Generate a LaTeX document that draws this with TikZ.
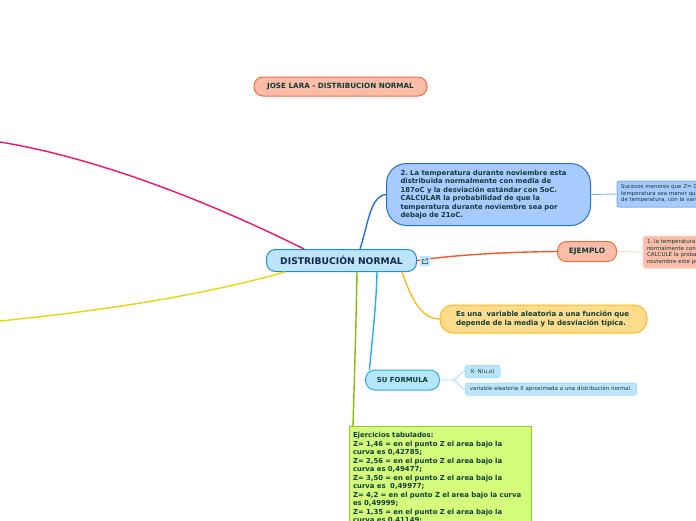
\documentclass[tikz,border=0pt]{standalone}
\usepackage{fontspec}
\setmainfont{DejaVu Sans}
\definecolor{ink}{HTML}{0F3D3A}
\definecolor{navy}{HTML}{14284F}
\definecolor{salmon}{HTML}{FBBDA8}
\definecolor{salmonD}{HTML}{F26B3F}
\definecolor{salmonL}{HTML}{FBD5C6}
\definecolor{skyF}{HTML}{BCE5FB}
\definecolor{skyD}{HTML}{1E8FD5}
\definecolor{blueF}{HTML}{A8CBFF}
\definecolor{blueD}{HTML}{2270D8}
\definecolor{blueL}{HTML}{7AB0F5}
\definecolor{goldF}{HTML}{FFDC8C}
\definecolor{goldD}{HTML}{FDB91E}
\definecolor{cyanF}{HTML}{B5E6FC}
\definecolor{cyanD}{HTML}{27AEEA}
\definecolor{cyanL}{HTML}{A5DDF8}
\definecolor{limeF}{HTML}{D3FD7A}
\definecolor{limeD}{HTML}{9BC62A}
\definecolor{linkPink}{HTML}{F5106E}
\definecolor{linkYellow}{HTML}{EBD507}
\definecolor{linkGreen}{HTML}{84BC08}
\definecolor{linkRed}{HTML}{F8562A}
\frenchspacing
\tikzset{
  box/.style={draw,line width=1pt,align=left,inner sep=0pt,text=ink,font=\fontsize{6.9}{8.5}\selectfont\bfseries},
  small/.style={draw,line width=1pt,rounded corners=2.5pt,align=left,inner sep=0pt,text=ink,font=\fontsize{5.5}{6.5}\selectfont},
  link/.style={line width=1.4pt,line cap=round},
  thinlink/.style={line width=.9pt,line cap=round}
}
\begin{document}
\begin{tikzpicture}[x=1pt,y=-1pt]
\useasboundingbox (0,0) rectangle (696,520);
\clip (0,0) rectangle (696,520);
\coordinate (pinkend) at (0,142);
\coordinate (yellowend) at (0,321);
\coordinate (fork) at (453,380);

\node[box,rounded corners=9pt,minimum width=173pt,minimum height=19pt,align=center,fill=salmon,draw=salmonD,font=\fontsize{7.2}{8}\selectfont\bfseries] (title) at (340.5,86.5) {JOSE LARA - DISTRIBUCION NORMAL};
\node[box,rounded corners=9pt,minimum width=150pt,minimum height=22pt,align=center,fill=skyF,draw=skyD,text=navy,font=\fontsize{9.2}{10}\selectfont\bfseries] (central) at (341.5,260.5) {DISTRIBUCIÓN NORMAL};
\node[box,rounded corners=20pt,minimum width=204pt,minimum height=62pt,fill=blueF,draw=blueD,text width=176pt,inner xsep=14pt] (q) at (488.5,194.5) {2. La temperatura durante noviembre esta\\distribuida normalmente con media de\\187oC y la desviación estándar con 5oC.\\CALCULAR la probabilidad de que la\\temperatura durante noviembre sea por\\debajo de 21oC.};
\node[box,rounded corners=9pt,minimum width=59pt,minimum height=20pt,align=center,fill=salmon,draw=salmonD,font=\fontsize{7.4}{9}\selectfont\bfseries] (ej) at (587,251.5) {EJEMPLO};
\node[box,rounded corners=13pt,minimum width=207pt,minimum height=28pt,fill=goldF,draw=goldD,text width=175pt,inner xsep=16pt,font=\fontsize{7}{8.7}\selectfont\bfseries] (va) at (543.5,319) {Es una\ \ variable aleatoria a una función que\\depende de la media y la desviación típica.};
\node[box,rounded corners=9.5pt,minimum width=74pt,minimum height=20pt,align=center,fill=cyanF,draw=cyanD,font=\fontsize{6.9}{9}\selectfont\bfseries] (sf) at (402.5,380) {SU FORMULA};
\node[small,minimum width=35pt,minimum height=12pt,align=center,fill=skyF,draw=cyanL] (xn) at (482.5,371.5) {X- N(u,o)};
\node[small,minimum width=171pt,minimum height=12pt,align=center,fill=skyF,draw=cyanL] (va2) at (551,389) {variable aleatoria X aproximada a una distribución normal.};
\node[small,anchor=west,minimum width=120pt,minimum height=26pt,fill=blueF,draw=blueL,inner xsep=4pt,text width=150pt] (suc) at (616.5,194) {Sucesos menores que Z= 0,\\temperatura sea menor que\\de temperatura, con la variable};
\node[small,anchor=west,minimum width=120pt,minimum height=32pt,fill=salmon,draw=salmonL,inner xsep=4pt,text width=150pt] (tem) at (642.5,252) {1. la temperatura\\normalmente con\\CALCULE la proba\\noviembre este por};
\node[box,anchor=north west,fill=limeF,draw=limeD,inner xsep=3.5pt,inner ysep=6pt,text width=175pt] (ej2) at (349,426) {Ejercicios tabulados:\\Z= 1,46 = en el punto Z el area bajo la\\curva es 0,42785;\\Z= 2,56 = en el punto Z el area bajo la\\curva es 0,49477;\\Z= 3,50 = en el punto Z el area bajo la\\curva es\ \ 0,49977;\\Z= 4,2 = en el punto Z el area bajo la curva\\es 0,49999;\\Z= 1,35 = en el punto Z el area bajo la\\curva es 0,41149;};

\draw[link,draw=linkPink] ([xshift=-37.5pt]central.north) .. controls (230,212) and (110,160) .. (pinkend);
\draw[link,draw=linkYellow] ([xshift=-56.5pt]central.south) .. controls (200,296) and (100,311) .. (yellowend);
\draw[link,draw=blueD] ([xshift=18.5pt]central.north) .. controls (368,225) and (370,196) .. (q.west);
\draw[link,draw=linkRed] (central.east) .. controls (450,255.5) and (500,252) .. (ej.west);
\draw[link,draw=goldD] ([xshift=60.5pt]central.south) .. controls (410,295) and (420,319) .. (va.west);
\draw[link,draw=cyanD] ([xshift=35.5pt]central.south) .. controls (376,310) and (372,340) .. ([xshift=-33pt]sf.north);
\draw[link,draw=linkGreen] ([xshift=15.5pt]central.south) .. controls (356,330) and (354,390) .. ([xshift=4pt]ej2.north west);
\draw[thinlink,draw=blueL] (q.east) -- (suc.west);
\draw[thinlink,draw=salmonL] (ej.east) -- (tem.west);
\draw[thinlink,draw=cyanL] (sf.east) -- (fork) .. controls (458,380) and (459,371.5) .. (xn.west);
\draw[thinlink,draw=cyanL] (fork) .. controls (458,380) and (459,389) .. (va2.west);

\node[minimum size=10pt,inner sep=0pt,fill=skyF] (icon) at (425,261) {};
\draw[navy!70,line width=.5pt] (423.5,259) -- (422.5,259) -- (422.5,263.5) -- (427,263.5) -- (427,261.5);
\draw[navy!70,line width=.5pt] (424.5,261) -- (427.5,258.5) (425.5,258.5) -- (427.5,258.5) -- (427.5,260.5);
\end{tikzpicture}
\end{document}
